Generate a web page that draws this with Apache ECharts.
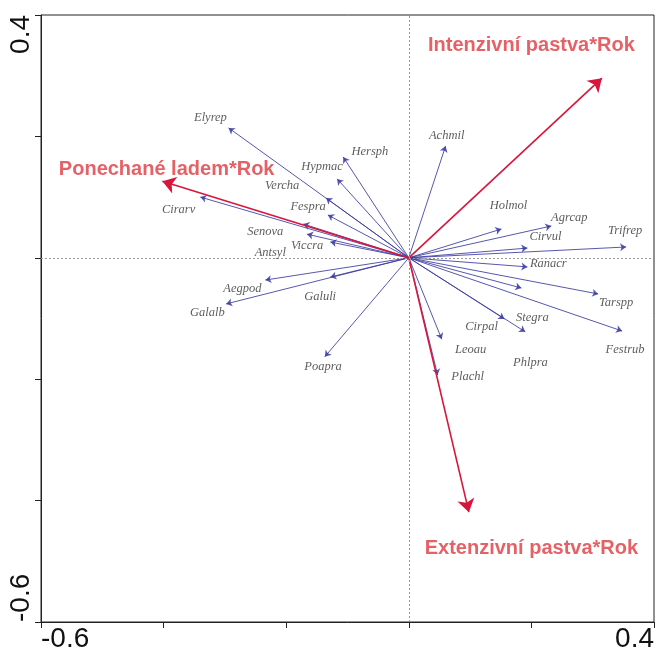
<!DOCTYPE html>
<html><head><meta charset="utf-8">
<script src="https://cdn.jsdelivr.net/npm/echarts@6/dist/echarts.min.js"></script>
<style>html,body{margin:0;padding:0;background:#fff}#c{width:657px;height:657px}</style>
</head><body><div id="c"></div>
<script>
// Species arrows (tip coordinates) and label anchor coordinates
const species = ['Elyrep','Hersph','Hypmac','Vercha','Fespra','Cirarv','Senova','Viccra','Antsyl','Aegpod','Galuli','Galalb','Poapra','Achmil','Holmol','Agrcap','Cirvul','Trifrep','Ranacr','Tarspp','Stegra','Cirpal','Festrub','Leoau','Phlpra','Plachl'];
const speciesX = [-0.294,-0.107,-0.117,-0.135,-0.132,-0.340,-0.166,-0.128,-0.172,-0.234,-0.128,-0.298,-0.137,0.060,0.151,0.2325,0.1935,0.3545,0.1935,0.309,0.1837,0.156,0.348,0.0537,0.190,0.047];
const speciesY = [0.214,0.166,0.130,0.0985,0.0705,0.100,0.039,0.026,0.0557,-0.0366,-0.0316,-0.076,-0.163,0.184,0.0474,0.0524,0.016,0.0178,-0.015,-0.0596,-0.0498,-0.1008,-0.1206,-0.134,-0.122,-0.193];
const labelX = [-0.3236,-0.0634,-0.1415,-0.2065,-0.1642,-0.3756,-0.2341,-0.1659,-0.226,-0.2715,-0.1447,-0.3285,-0.1398,0.0618,0.1626,0.2618,0.2228,0.3528,0.2276,0.3382,0.2016,0.1187,0.3528,0.1008,0.1984,0.0959];
const labelY = [0.2303,0.1743,0.1496,0.1183,0.0837,0.0787,0.0425,0.0194,0.0079,-0.0514,-0.0646,-0.0909,-0.1799,0.2007,0.0853,0.0656,0.0343,0.0442,-0.0102,-0.0745,-0.0992,-0.114,-0.1519,-0.1519,-0.1733,-0.1964];

// Explanatory variables
const envNames = ['Intenzivní pastva*Rok','Ponechané ladem*Rok','Extenzivní pastva*Rok'];
const envX = [0.315,-0.402,0.098];
const envY = [0.296,0.126,-0.419];
const envLabelX = [0.2,-0.395,0.2];
const envLabelY = [0.3506,0.1447,-0.4797];

const axisMin = -0.6, axisMax = 0.4, axisStep = 0.2;
const tickLabels = ['-0.6','0.4'];

function fmt(v){
  if (Math.abs(v - axisMin) < 1e-9) return tickLabels[0];
  if (Math.abs(v - axisMax) < 1e-9) return tickLabels[1];
  return '';
}

const chart = echarts.init(document.getElementById('c'), null, {renderer:'canvas'});
const axisCommon = {
  type:'value', min:axisMin, max:axisMax, interval:axisStep,
  splitLine:{show:false},
  axisLine:{show:true, onZero:false, lineStyle:{color:'#222', width:1}},
  axisTick:{show:true, inside:false, length:6, lineStyle:{color:'#222'}},
};
chart.setOption({
  backgroundColor:'#fff',
  animation:false,
  grid:{left:41, right:2, top:15, bottom:35, show:true, borderColor:'#222', borderWidth:1, backgroundColor:'transparent'},
  xAxis:Object.assign({}, axisCommon, {
    axisLabel:{formatter:fmt, fontSize:28, color:'#111', fontFamily:'Liberation Sans, Arial', margin:3, alignMinLabel:'left', alignMaxLabel:'right', showMinLabel:true, showMaxLabel:true}
  }),
  yAxis:Object.assign({}, axisCommon, {
    axisLabel:{formatter:fmt, fontSize:28, color:'#111', fontFamily:'Liberation Sans, Arial', rotate:90, margin:6, alignMinLabel:'left', alignMaxLabel:'right', showMinLabel:true, showMaxLabel:true}
  }),
  series:[
    {
      type:'line', data:[], silent:true,
      markLine:{silent:true, symbol:'none', label:{show:false},
        lineStyle:{color:'#999', type:[2,2], width:1},
        data:[{xAxis:0},{yAxis:0}]}
    },
    {
      type:'lines', coordinateSystem:'cartesian2d', silent:true, z:3,
      symbol:['none','arrow'], symbolSize:6,
      lineStyle:{color:'#3a3aa0', width:1, opacity:0.85},
      data: species.map((s,i)=>({name:s, coords:[[0,0],[speciesX[i],speciesY[i]]]}))
    },
    {
      type:'lines', coordinateSystem:'cartesian2d', silent:true, z:4,
      symbol:['none','arrow'], symbolSize:13,
      lineStyle:{color:'#d8163c', width:1.6, opacity:1},
      data: envNames.map((s,i)=>({name:s, coords:[[0,0],[envX[i],envY[i]]]}))
    },
    {
      type:'scatter', silent:true, symbolSize:0, z:5,
      data: species.map((s,i)=>({name:s, value:[labelX[i],labelY[i]]})),
      label:{show:true, position:'inside', formatter:p=>p.name, fontFamily:'Liberation Serif, Times New Roman', fontStyle:'italic', fontSize:12.5, color:'#333'}
    },
    {
      type:'scatter', silent:true, symbolSize:0, z:6,
      data: envNames.map((s,i)=>({name:s, value:[envLabelX[i],envLabelY[i]]})),
      label:{show:true, position:'inside', formatter:p=>p.name, fontFamily:'Liberation Sans, Arial', fontWeight:'bold', fontSize:20, color:'#e03a40'}
    }
  ]
});
</script></body></html>
